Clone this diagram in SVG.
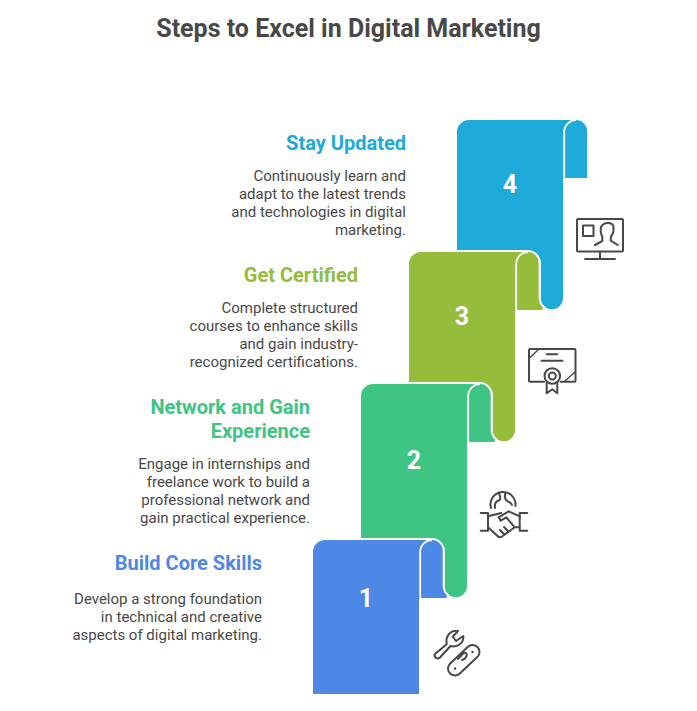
<svg xmlns="http://www.w3.org/2000/svg" width="697" height="711" viewBox="0 0 697 711">
<style>
text{font-family:Roboto,"Liberation Sans",sans-serif}
.title{font-size:25px;font-weight:700;fill:#484848;text-anchor:middle}
.head{font-size:20px;font-weight:700;text-anchor:end}
.body{font-size:15px;fill:#484848;text-anchor:end}
.num{font-size:25px;font-weight:700;fill:#fff;text-anchor:middle}
.shape{stroke:#fff;stroke-width:2;stroke-linejoin:round}
.fold{fill:none;stroke:#fff;stroke-width:1.8}
.icon{fill:none;stroke:#484848;stroke-width:2;stroke-linecap:round;stroke-linejoin:round}
.dot{fill:#484848}
</style>
<rect width="697" height="711" fill="#fff"/>
<text class="title" x="348.5" y="37">Steps to Excel in Digital Marketing</text>

<g id="step-4">
<path class="shape" fill="#1eabda" d="M456,260V132A13 13 0 0 1 469,119H576A12 12 0 0 1 588,131V179H564V298A12.25 12.25 0 0 1 539.5,298V260Z"/>
<path class="fold" d="M564.2,178V132A12 12 0 0 1 576,120"/>
<text class="num" x="510" y="193">4</text>
<text class="head" x="406" y="150" style="fill:#1eabda">Stay Updated</text>
<text class="body" x="406" y="181">Continuously learn and</text>
<text class="body" x="406" y="199">adapt to the latest trends</text>
<text class="body" x="406" y="217">and technologies in digital</text>
<text class="body" x="406" y="235">marketing.</text>
<g class="icon">
<rect x="577" y="219" width="46" height="32.5" rx="1"/>
<rect x="583" y="225.5" width="10.5" height="10.5"/>
<path d="M600,252V259M585,259H615"/>
<path d="M595,245L602.3,241V236.5Q600,233 601,227Q603,223 608,223Q613,223 613.5,227Q614,233 611,236.5L610.7,240.7L617.7,245"/>
</g>
</g>

<g id="step-3">
<path class="shape" fill="#95bc3a" d="M408,392V264A13 13 0 0 1 421,251H528A11.85 11.85 0 0 1 539.7,263V298A12.1 12.1 0 0 0 544.5,307.6L543,311H516V430A12.25 12.25 0 0 1 491.5,430V392Z"/>
<path class="fold" d="M516.2,310V264A12 12 0 0 1 528,252"/>
<text class="num" x="462" y="325">3</text>
<text class="head" x="358" y="282" style="fill:#95bc3a">Get Certified</text>
<text class="body" x="358" y="313">Complete structured</text>
<text class="body" x="358" y="331">courses to enhance skills</text>
<text class="body" x="358" y="349">and gain industry-</text>
<text class="body" x="358" y="367">recognized certifications.</text>
<g class="icon">
<path d="M544,381.7H530Q529,381.7 529,380.7V350Q529,349 530,349H574.5Q575.5,349 575.5,350V380.7Q575.5,381.7 574.5,381.7H560.5"/>
<path d="M529.5,358L538,350" style="stroke-width:1.4"/>
<path d="M575,372L565,381" style="stroke-width:1.4"/>
<path d="M546.7,354.3H557.3M541.5,360.7H562.5"/>
<circle cx="552.3" cy="376" r="7.8"/>
<circle cx="552.3" cy="376" r="3.5"/>
<path d="M546.7,382V393.3L552.3,389.3L557.3,393.3V382"/>
</g>
</g>

<g id="step-2">
<path class="shape" fill="#3ec584" d="M360,548V396A13 13 0 0 1 373,383H480A11.85 11.85 0 0 1 491.7,395V430A12.1 12.1 0 0 0 496.5,439.6L495,443H468V586A12.25 12.25 0 0 1 443.5,586V548Z"/>
<path class="fold" d="M468.2,442V396A12 12 0 0 1 480,384"/>
<text class="num" x="414" y="469">2</text>
<text class="head" x="310" y="414" style="fill:#3ec584">Network and Gain</text>
<text class="head" x="310" y="438" style="fill:#3ec584">Experience</text>
<text class="body" x="310" y="469">Engage in internships and</text>
<text class="body" x="310" y="487">freelance work to build a</text>
<text class="body" x="310" y="505">professional network and</text>
<text class="body" x="310" y="523">gain practical experience.</text>
<g class="icon">
<path d="M491,508A12.5 12.5 0 1 1 515.4,506M495,508Q494,501.5 499.7,500Q501,497 499,493.5M505.5,492.8Q503.5,499 508,501.5Q511,502.5 512,505"/>
<path d="M480.7,513H488V530.7H480.7M527.3,513H519.7V530.7H527.3"/>
<path d="M488,516.3L501.3,513M519.7,516.3L508.7,511.3L498.7,517.3L500.7,520.7L506.3,517.3L514.7,527.3H519.7M488,527.3L497,535.5Q499.7,538.5 502,536.5L514.7,527.3M500,530L504,534M504,527L508,531"/>
</g>
</g>

<g id="step-1">
<path class="shape" fill="#4e88e7" d="M312,695V552A13 13 0 0 1 325,539H432A11.85 11.85 0 0 1 443.7,551V586A12.1 12.1 0 0 0 448.5,595.6L447,599H420V695Z"/>
<path class="fold" d="M420.2,598V552A12 12 0 0 1 432,540"/>
<text class="num" x="366" y="607">1</text>
<text class="head" x="262" y="570" style="fill:#4e88e7">Build Core Skills</text>
<text class="body" x="262" y="604">Develop a strong foundation</text>
<text class="body" x="262" y="622">in technical and creative</text>
<text class="body" x="262" y="640">aspects of digital marketing.</text>
<g class="icon">
<path d="M446.7,644.3Q445.5,637.5 449.5,633.5Q453,630 458,631L452.7,636.7L456,641L463.3,636Q464,641 460,644Q455.5,647.5 450.5,646L440,657.5Q437.5,659.5 435.5,657.5Q433.5,655.5 435.5,653.5Z"/>
<path d="M459.8,673.6L477.3,657.1A7 7 0 0 0 467.7,646.9L450.2,663.4A7 7 0 0 0 459.8,673.6Z"/>
<path d="M458,659L463.5,653Q467,652 466.7,655Q466,659 462,660"/>
</g>
<circle class="dot" cx="455" cy="668.5" r="1.2"/>
<circle class="dot" cx="472.5" cy="652" r="1.2"/>
</g>
</svg>
